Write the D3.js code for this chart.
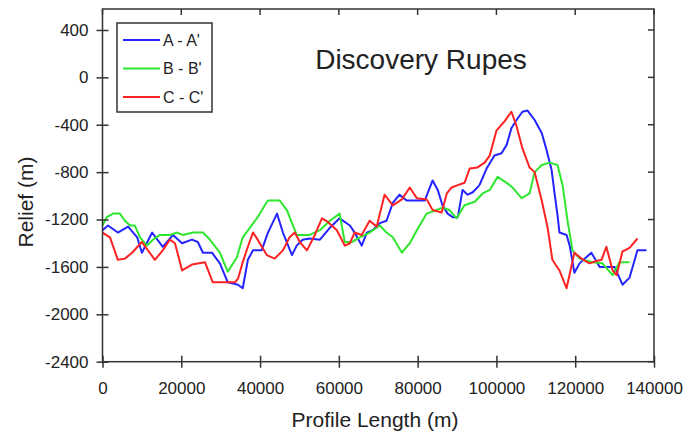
<!DOCTYPE html>
<html>
<head>
<meta charset="utf-8">
<script src="https://cdn.jsdelivr.net/npm/d3@7"></script>
<style>
  body { margin: 0; background: #fff; }
  svg { display: block; font-family: "Liberation Sans", Arial, Helvetica, sans-serif; }
</style>
</head>
<body>
<div id="chart"></div>
<script>
// Discovery Rupes relief profiles
const xTicks = [0, 20000, 40000, 60000, 80000, 100000, 120000, 140000];
const yTicks = [-2400, -2000, -1600, -1200, -800, -400, 0, 400];

const seriesNames = ["A - A'", "B - B'", "C - C'"];
const seriesColors = ['#2424ff', '#2ee62e', '#ff2222'];

// [profile length (m), relief (m)]
const profileA = [
  [0,-1290],[1400,-1250],[3900,-1310],[6500,-1260],[8800,-1350],[10000,-1480],[12600,-1310],
  [15300,-1430],[17900,-1330],[20200,-1400],[22700,-1370],[24200,-1390],[25500,-1480],[27800,-1480],
  [29800,-1570],[31800,-1730],[34400,-1750],[35600,-1780],[36900,-1540],[38200,-1460],[40400,-1460],
  [42000,-1310],[44300,-1150],[45800,-1310],[48100,-1500],[49300,-1420],[50800,-1370],[52600,-1360],
  [55200,-1370],[57700,-1270],[60200,-1190],[62800,-1250],[64000,-1310],[65800,-1420],[67100,-1310],
  [68600,-1290],[70400,-1230],[72100,-1210],[73700,-1060],[75400,-990],[77200,-1040],[79800,-1040],
  [81800,-1040],[83800,-870],[85100,-950],[86300,-1080],[87600,-1150],[88900,-1180],[90200,-1180],
  [91400,-950],[92700,-990],[94000,-970],[95700,-910],[97500,-770],[99500,-660],[101300,-640],
  [102600,-570],[103800,-430],[105100,-360],[106600,-290],[107900,-280],[109700,-360],[111500,-470],
  [112700,-610],[114000,-780],[114800,-990],[115500,-1160],[116000,-1310],[117800,-1330],[118600,-1420],
  [119800,-1650],[121100,-1570],[122400,-1530],[124100,-1480],[126200,-1600],[128200,-1600],
  [130000,-1600],[132000,-1750],[133800,-1690],[135800,-1460],[138100,-1460]
];

const profileB = [
  [0,-1250],[1100,-1180],[2700,-1150],[4400,-1150],[5700,-1210],[7000,-1250],[8200,-1250],
  [9500,-1350],[11300,-1420],[12800,-1370],[14600,-1330],[17100,-1330],[18900,-1310],[20400,-1330],
  [23000,-1310],[25500,-1310],[27000,-1360],[29800,-1480],[31800,-1640],[34100,-1520],[35600,-1350],
  [37400,-1270],[39400,-1180],[41200,-1080],[42000,-1040],[45000,-1040],[46800,-1120],[48100,-1230],
  [49300,-1330],[50600,-1330],[52600,-1330],[55200,-1290],[57700,-1210],[60200,-1150],[61500,-1390],
  [63300,-1390],[65300,-1350],[67800,-1310],[70400,-1250],[72100,-1310],[73700,-1350],[76000,-1480],
  [78000,-1400],[79800,-1290],[82300,-1150],[84800,-1120],[86300,-1100],[88100,-1120],[89900,-1190],
  [91900,-1080],[94500,-1050],[96500,-980],[98300,-950],[100300,-840],[102600,-890],[104100,-930],
  [106400,-1020],[108400,-980],[109700,-800],[111500,-740],[113500,-720],[115500,-740],[116800,-910],
  [118100,-1220],[119300,-1460],[121100,-1530],[124400,-1560],[126900,-1570],[129500,-1670],
  [131200,-1560],[133800,-1560]
];

const profileC = [
  [0,-1310],[1900,-1350],[3900,-1540],[5700,-1530],[7500,-1480],[10000,-1390],[13300,-1540],
  [15300,-1460],[17100,-1370],[18400,-1400],[20200,-1630],[22700,-1580],[26000,-1560],[28000,-1730],
  [30600,-1730],[33600,-1730],[34400,-1700],[35600,-1560],[36900,-1430],[38200,-1310],[39400,-1370],
  [41700,-1500],[43700,-1530],[45800,-1460],[47500,-1350],[48800,-1310],[50100,-1390],[51900,-1460],
  [53900,-1330],[55700,-1190],[57200,-1220],[59500,-1290],[61500,-1420],[62800,-1400],[64000,-1310],
  [65800,-1330],[67800,-1210],[69600,-1260],[71600,-990],[73700,-1080],[76000,-1030],[78000,-930],
  [79800,-1020],[82300,-1030],[83800,-1120],[86100,-1140],[87400,-980],[88600,-930],[90200,-910],
  [91900,-890],[93200,-770],[95200,-760],[97000,-720],[98300,-660],[100000,-450],[102100,-370],
  [103800,-290],[105100,-410],[106600,-600],[108400,-760],[109700,-800],[111500,-1040],[113000,-1270],
  [114200,-1540],[116000,-1630],[117800,-1780],[119800,-1480],[121600,-1530],[123600,-1570],
  [125400,-1550],[126700,-1540],[127900,-1430],[129500,-1630],[130500,-1670],[132000,-1470],
  [133800,-1440],[135800,-1360]
];

const profiles = [profileA, profileB, profileC];

const width = 688, height = 435;
const m = { left: 102.5, right: 654, top: 9, bottom: 361.7 };

const x = d3.scaleLinear().domain([0, 140000]).range([m.left, m.right]);
const y = d3.scaleLinear().domain([-2400, 577]).range([m.bottom, m.top]);

const svg = d3.select('#chart').append('svg')
  .attr('width', width)
  .attr('height', height);

const axisColor = '#333';
const plain = d => String(d); // keep ASCII hyphen like the original

// data lines
const line = d3.line().x(d => x(d[0])).y(d => y(d[1]));
svg.append('g')
  .selectAll('path')
  .data(profiles)
  .join('path')
  .attr('fill', 'none')
  .attr('stroke', (d, i) => seriesColors[i])
  .attr('stroke-width', 2)
  .attr('stroke-linejoin', 'round')
  .attr('d', line);

// frame
svg.append('rect')
  .attr('x', m.left).attr('y', m.top)
  .attr('width', m.right - m.left).attr('height', m.bottom - m.top)
  .attr('fill', 'none')
  .attr('stroke', axisColor)
  .attr('stroke-width', 1.5);

// bottom axis, ticks crossing the line
const xAxis = svg.append('g')
  .attr('transform', `translate(0,${m.bottom})`)
  .call(d3.axisBottom(x).tickValues(xTicks).tickFormat(plain).tickSizeOuter(0));
xAxis.select('.domain').remove();
xAxis.selectAll('.tick line').attr('y1', -6).attr('y2', 6).attr('stroke', axisColor).attr('stroke-width', 1.5);
xAxis.selectAll('.tick text').attr('y', 20).attr('dy', '0.71em')
  .attr('font-size', 17).attr('fill', '#222')
  .attr('font-family', '"Liberation Sans", Arial, sans-serif');

// left axis
const yAxis = svg.append('g')
  .attr('transform', `translate(${m.left},0)`)
  .call(d3.axisLeft(y).tickValues(yTicks).tickFormat(plain).tickSizeOuter(0));
yAxis.select('.domain').remove();
yAxis.selectAll('.tick line').attr('x1', -6).attr('x2', 6).attr('stroke', axisColor).attr('stroke-width', 1.5);
yAxis.selectAll('.tick text').attr('x', -14)
  .attr('font-size', 17).attr('fill', '#222')
  .attr('font-family', '"Liberation Sans", Arial, sans-serif');

// top and right inward ticks
svg.append('g').selectAll('line')
  .data(xTicks)
  .join('line')
  .attr('x1', d => x(d)).attr('x2', d => x(d))
  .attr('y1', m.top).attr('y2', m.top + 6)
  .attr('stroke', axisColor).attr('stroke-width', 1.5);
svg.append('g').selectAll('line')
  .data(yTicks)
  .join('line')
  .attr('x1', m.right - 6).attr('x2', m.right)
  .attr('y1', d => y(d)).attr('y2', d => y(d))
  .attr('stroke', axisColor).attr('stroke-width', 1.5);

// axis titles
svg.append('text')
  .attr('x', 375).attr('y', 427)
  .attr('text-anchor', 'middle')
  .attr('font-size', 21).attr('fill', '#222')
  .text('Profile Length (m)');
svg.append('text')
  .attr('transform', 'translate(33,202) rotate(-90)')
  .attr('text-anchor', 'middle')
  .attr('font-size', 21).attr('fill', '#222')
  .text('Relief (m)');

// chart title
svg.append('text')
  .attr('x', 421).attr('y', 69)
  .attr('text-anchor', 'middle')
  .attr('font-size', 28).attr('fill', '#222')
  .text('Discovery Rupes');

// legend
const legend = svg.append('g');
legend.append('rect')
  .attr('x', 117).attr('y', 23)
  .attr('width', 95).attr('height', 89)
  .attr('fill', '#fff')
  .attr('stroke', axisColor)
  .attr('stroke-width', 1.5);
const item = legend.selectAll('g.item')
  .data(seriesNames)
  .join('g')
  .attr('class', 'item')
  .attr('transform', (d, i) => `translate(0,${40 + i * 28.5})`);
item.append('line')
  .attr('x1', 123).attr('x2', 160)
  .attr('stroke', (d, i) => seriesColors[i])
  .attr('stroke-width', 2);
item.append('text')
  .attr('x', 163).attr('y', 0).attr('dy', '0.36em')
  .attr('font-size', 16).attr('fill', '#222')
  .text(d => d);
</script>
</body>
</html>
